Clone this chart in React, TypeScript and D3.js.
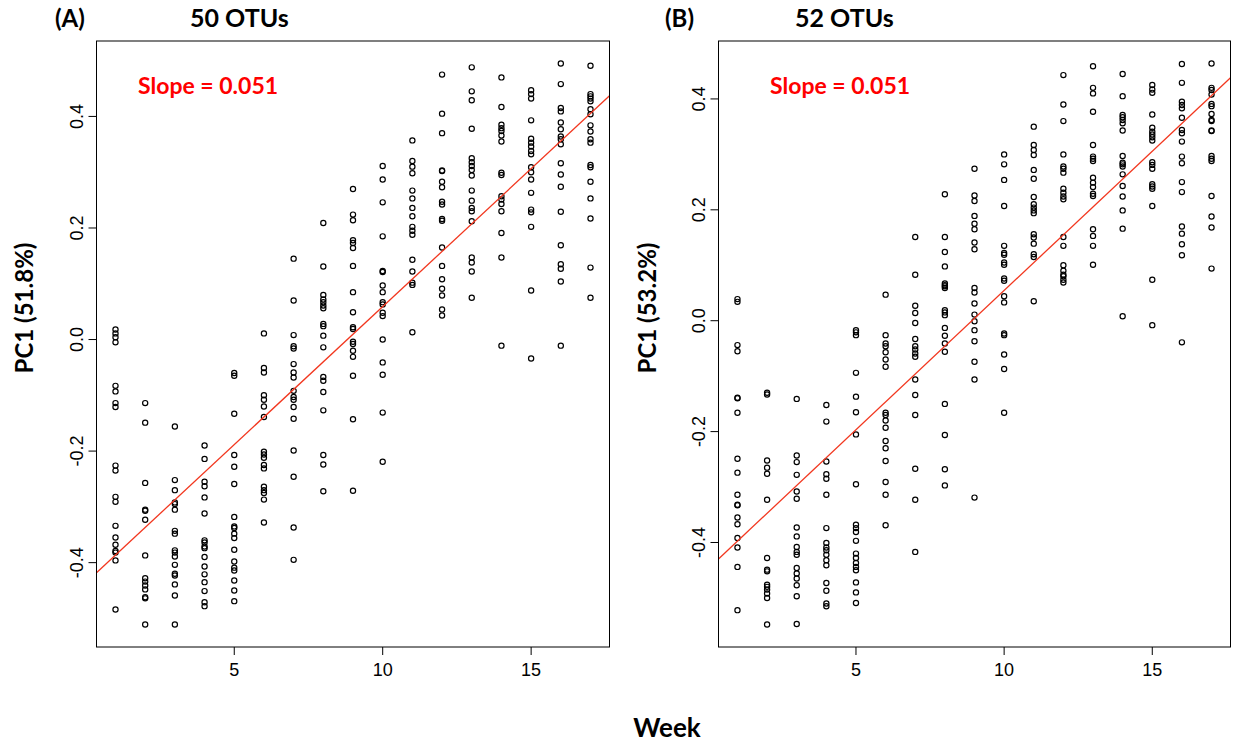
import { useEffect, useRef } from 'react';
import * as d3 from 'd3';

const weeks = [1, 2, 3, 4, 5, 6, 7, 8, 9, 10, 11, 12, 13, 14, 15, 16, 17];

// PC1 scores per week, panel A (50 OTUs)
const pcA: number[][] = [
  [0.018, 0.011, 0.004, -0.005, -0.083, -0.093, -0.114, -0.121, -0.226, -0.235, -0.282, -0.291, -0.334, -0.355, -0.368, -0.379, -0.382, -0.396, -0.484],
  [-0.114, -0.149, -0.257, -0.305, -0.307, -0.323, -0.387, -0.428, -0.434, -0.441, -0.448, -0.462, -0.464, -0.511],
  [-0.156, -0.252, -0.270, -0.292, -0.295, -0.305, -0.343, -0.348, -0.378, -0.382, -0.389, -0.404, -0.420, -0.423, -0.439, -0.459, -0.511],
  [-0.190, -0.214, -0.255, -0.263, -0.283, -0.312, -0.360, -0.364, -0.371, -0.374, -0.390, -0.407, -0.421, -0.435, -0.451, -0.471, -0.478],
  [-0.060, -0.065, -0.133, -0.207, -0.228, -0.259, -0.318, -0.335, -0.338, -0.348, -0.356, -0.377, -0.398, -0.409, -0.414, -0.432, -0.450, -0.469],
  [0.011, -0.051, -0.059, -0.100, -0.108, -0.120, -0.139, -0.201, -0.206, -0.212, -0.225, -0.231, -0.264, -0.270, -0.275, -0.287, -0.328],
  [0.145, 0.070, 0.008, -0.012, -0.016, -0.044, -0.059, -0.068, -0.092, -0.103, -0.108, -0.121, -0.142, -0.199, -0.246, -0.337, -0.395],
  [0.209, 0.131, 0.080, 0.072, 0.067, 0.061, 0.056, 0.028, 0.024, 0.007, -0.014, -0.067, -0.074, -0.094, -0.127, -0.207, -0.224, -0.272],
  [0.270, 0.224, 0.214, 0.178, 0.173, 0.164, 0.132, 0.085, 0.049, 0.022, 0.019, -0.004, -0.008, -0.020, -0.031, -0.065, -0.143, -0.271],
  [0.311, 0.287, 0.246, 0.185, 0.123, 0.121, 0.097, 0.085, 0.067, 0.063, 0.048, 0.042, 0.000, -0.041, -0.063, -0.131, -0.219],
  [0.357, 0.320, 0.310, 0.298, 0.267, 0.253, 0.236, 0.221, 0.202, 0.195, 0.188, 0.143, 0.122, 0.102, 0.098, 0.013],
  [0.475, 0.405, 0.370, 0.303, 0.302, 0.283, 0.273, 0.247, 0.242, 0.216, 0.213, 0.165, 0.132, 0.108, 0.091, 0.079, 0.054, 0.043],
  [0.488, 0.445, 0.429, 0.378, 0.325, 0.318, 0.311, 0.304, 0.294, 0.267, 0.249, 0.236, 0.230, 0.212, 0.147, 0.138, 0.122, 0.075],
  [0.470, 0.417, 0.385, 0.379, 0.374, 0.366, 0.355, 0.299, 0.295, 0.257, 0.251, 0.243, 0.230, 0.191, 0.147, -0.011],
  [0.447, 0.440, 0.432, 0.393, 0.360, 0.353, 0.346, 0.338, 0.332, 0.309, 0.300, 0.287, 0.263, 0.233, 0.228, 0.202, 0.088, -0.034],
  [0.495, 0.458, 0.415, 0.409, 0.389, 0.377, 0.364, 0.359, 0.350, 0.316, 0.296, 0.274, 0.229, 0.169, 0.135, 0.127, 0.104, -0.011],
  [0.491, 0.440, 0.436, 0.432, 0.427, 0.413, 0.404, 0.384, 0.373, 0.359, 0.353, 0.313, 0.309, 0.283, 0.253, 0.217, 0.129, 0.075],
];

// PC1 scores per week, panel B (52 OTUs)
const pcB: number[][] = [
  [0.039, 0.034, -0.044, -0.055, -0.139, -0.140, -0.166, -0.249, -0.274, -0.314, -0.332, -0.333, -0.355, -0.367, -0.392, -0.409, -0.444, -0.522],
  [-0.130, -0.133, -0.252, -0.265, -0.276, -0.323, -0.428, -0.449, -0.452, -0.476, -0.480, -0.485, -0.492, -0.500, -0.548],
  [-0.141, -0.243, -0.255, -0.278, -0.308, -0.321, -0.373, -0.389, -0.408, -0.417, -0.422, -0.446, -0.456, -0.465, -0.477, -0.497, -0.547],
  [-0.152, -0.182, -0.254, -0.277, -0.285, -0.314, -0.374, -0.401, -0.409, -0.414, -0.422, -0.432, -0.441, -0.473, -0.487, -0.510, -0.515],
  [-0.017, -0.021, -0.026, -0.094, -0.137, -0.165, -0.205, -0.295, -0.368, -0.374, -0.381, -0.397, -0.420, -0.428, -0.437, -0.444, -0.450, -0.472, -0.490, -0.509],
  [0.047, -0.026, -0.041, -0.046, -0.057, -0.070, -0.083, -0.166, -0.170, -0.180, -0.193, -0.217, -0.230, -0.253, -0.291, -0.314, -0.369],
  [0.151, 0.083, 0.027, 0.014, -0.004, -0.033, -0.046, -0.052, -0.059, -0.065, -0.106, -0.134, -0.170, -0.267, -0.323, -0.417],
  [0.228, 0.151, 0.124, 0.098, 0.067, 0.064, 0.062, 0.059, 0.019, 0.015, 0.010, -0.013, -0.027, -0.041, -0.056, -0.150, -0.206, -0.268, -0.297],
  [0.274, 0.226, 0.216, 0.189, 0.175, 0.165, 0.141, 0.129, 0.059, 0.051, 0.031, 0.011, -0.001, -0.017, -0.037, -0.074, -0.106, -0.319],
  [0.300, 0.282, 0.254, 0.207, 0.135, 0.122, 0.119, 0.105, 0.101, 0.076, 0.072, 0.044, 0.033, -0.023, -0.026, -0.061, -0.087, -0.166],
  [0.350, 0.317, 0.308, 0.299, 0.272, 0.256, 0.223, 0.210, 0.204, 0.199, 0.194, 0.156, 0.150, 0.139, 0.120, 0.115, 0.035],
  [0.443, 0.390, 0.360, 0.300, 0.278, 0.274, 0.267, 0.238, 0.231, 0.224, 0.219, 0.151, 0.135, 0.100, 0.090, 0.083, 0.080, 0.074, 0.069],
  [0.459, 0.420, 0.410, 0.377, 0.317, 0.296, 0.292, 0.288, 0.258, 0.249, 0.241, 0.229, 0.225, 0.165, 0.153, 0.135, 0.101],
  [0.445, 0.405, 0.371, 0.367, 0.362, 0.356, 0.343, 0.297, 0.285, 0.282, 0.278, 0.264, 0.243, 0.224, 0.199, 0.166, 0.008],
  [0.425, 0.417, 0.411, 0.372, 0.348, 0.341, 0.336, 0.331, 0.325, 0.286, 0.281, 0.274, 0.246, 0.242, 0.238, 0.207, 0.074, -0.008],
  [0.463, 0.429, 0.395, 0.389, 0.383, 0.366, 0.344, 0.338, 0.323, 0.296, 0.284, 0.250, 0.232, 0.170, 0.157, 0.138, 0.118, -0.039],
  [0.464, 0.420, 0.416, 0.408, 0.391, 0.387, 0.373, 0.362, 0.360, 0.343, 0.342, 0.297, 0.292, 0.288, 0.225, 0.188, 0.168, 0.094],
];

const xTicks = [5, 10, 15];
const yTicks = [-0.4, -0.2, 0.0, 0.2, 0.4];

const panels = [
  { tag: '(A)', title: '50 OTUs', ylab: 'PC1 (51.8%)', slope: 'Slope = 0.051', data: pcA, left: 96.5, right: 609.5, labX: 33, tagX: 55, titleX: 190, slopeX: 138 },
  { tag: '(B)', title: '52 OTUs', ylab: 'PC1 (53.2%)', slope: 'Slope = 0.051', data: pcB, left: 718.5, right: 1230.5, labX: 656, tagX: 665, titleX: 795, slopeX: 770 },
];

const top = 41;
const bottom = 647;
const labelFont = 'Lato, "Open Sans", sans-serif';
const tickFont = '"Liberation Sans", Arial, sans-serif';

const App = () => {
  const svgRef = useRef<SVGSVGElement>(null);

  useEffect(() => {
    if (!svgRef.current) return;
    const svg = d3.select(svgRef.current);
    svg.selectAll('*').remove();

    panels.forEach(p => {
      const pts = p.data.flatMap((vals, i) => vals.map(v => ({ week: weeks[i], v })));

      // R style: pad the data range by 4% on each side
      const [x0, x1] = d3.extent(weeks) as [number, number];
      const [y0, y1] = d3.extent(pts, d => d.v) as [number, number];
      const px = (x1 - x0) * 0.04;
      const py = (y1 - y0) * 0.04;

      const x = d3.scaleLinear().domain([x0 - px, x1 + px]).range([p.left, p.right]);
      const y = d3.scaleLinear().domain([y0 - py, y1 + py]).range([bottom, top]);

      const g = svg.append('g');

      // points
      g.selectAll('circle')
        .data(pts)
        .enter()
        .append('circle')
        .attr('cx', d => x(d.week))
        .attr('cy', d => y(d.v))
        .attr('r', 2.6)
        .attr('fill', 'none')
        .attr('stroke', '#000')
        .attr('stroke-width', 1.2);

      // least squares fit line across the whole plot
      const mx = d3.mean(pts, d => d.week) as number;
      const my = d3.mean(pts, d => d.v) as number;
      const b = (d3.sum(pts, d => (d.week - mx) * (d.v - my)) as number) /
        (d3.sum(pts, d => (d.week - mx) ** 2) as number);
      const a = my - b * mx;
      const [dx0, dx1] = x.domain();

      g.append('clipPath')
        .attr('id', `clip${p.tag}`)
        .append('rect')
        .attr('x', p.left)
        .attr('y', top)
        .attr('width', p.right - p.left)
        .attr('height', bottom - top);

      g.append('line')
        .attr('clip-path', `url(#clip${p.tag})`)
        .attr('x1', x(dx0))
        .attr('y1', y(a + b * dx0))
        .attr('x2', x(dx1))
        .attr('y2', y(a + b * dx1))
        .attr('stroke', '#f2371f')
        .attr('stroke-width', 1.3);

      // frame
      g.append('rect')
        .attr('x', p.left)
        .attr('y', top)
        .attr('width', p.right - p.left)
        .attr('height', bottom - top)
        .attr('fill', 'none')
        .attr('stroke', '#000')
        .attr('stroke-width', 1);

      // x axis
      const xa = g.append('g').attr('transform', `translate(0,${bottom})`);
      xTicks.forEach(t => {
        xa.append('line').attr('x1', x(t)).attr('x2', x(t)).attr('y1', 0).attr('y2', 8).attr('stroke', '#000');
        xa.append('text')
          .attr('x', x(t))
          .attr('y', 29)
          .attr('text-anchor', 'middle')
          .attr('font-family', tickFont)
          .attr('font-size', 18)
          .text(t);
      });

      // y axis
      const ya = g.append('g').attr('transform', `translate(${p.left},0)`);
      yTicks.forEach(t => {
        ya.append('line').attr('x1', 0).attr('x2', -8).attr('y1', y(t)).attr('y2', y(t)).attr('stroke', '#000');
        ya.append('text')
          .attr('transform', `translate(-14,${y(t)}) rotate(-90)`)
          .attr('text-anchor', 'middle')
          .attr('font-family', tickFont)
          .attr('font-size', 18)
          .text(t.toFixed(1));
      });

      // labels
      g.append('text')
        .attr('transform', `translate(${p.labX},308) rotate(-90)`)
        .attr('text-anchor', 'middle')
        .attr('font-family', labelFont)
        .attr('font-weight', 'bold')
        .attr('font-size', 24)
        .text(p.ylab);

      g.append('text')
        .attr('x', p.tagX)
        .attr('y', 27)
        .attr('font-family', labelFont)
        .attr('font-weight', 'bold')
        .attr('font-size', 24)
        .text(p.tag);

      g.append('text')
        .attr('x', p.titleX)
        .attr('y', 27)
        .attr('font-family', labelFont)
        .attr('font-weight', 'bold')
        .attr('font-size', 25)
        .text(p.title);

      g.append('text')
        .attr('x', p.slopeX)
        .attr('y', 94)
        .attr('fill', '#ff0000')
        .attr('font-family', labelFont)
        .attr('font-weight', 'bold')
        .attr('font-size', 23)
        .text(p.slope);
    });

    svg.append('text')
      .attr('x', 667)
      .attr('y', 737)
      .attr('text-anchor', 'middle')
      .attr('font-family', labelFont)
      .attr('font-weight', 'bold')
      .attr('font-size', 26)
      .text('Week');
  }, []);

  return (
    <svg
      ref={svgRef}
      width={1233}
      height={742}
      style={{ position: 'absolute', left: 0, top: 0, background: '#fff' }}
    />
  );
};

export default App;
